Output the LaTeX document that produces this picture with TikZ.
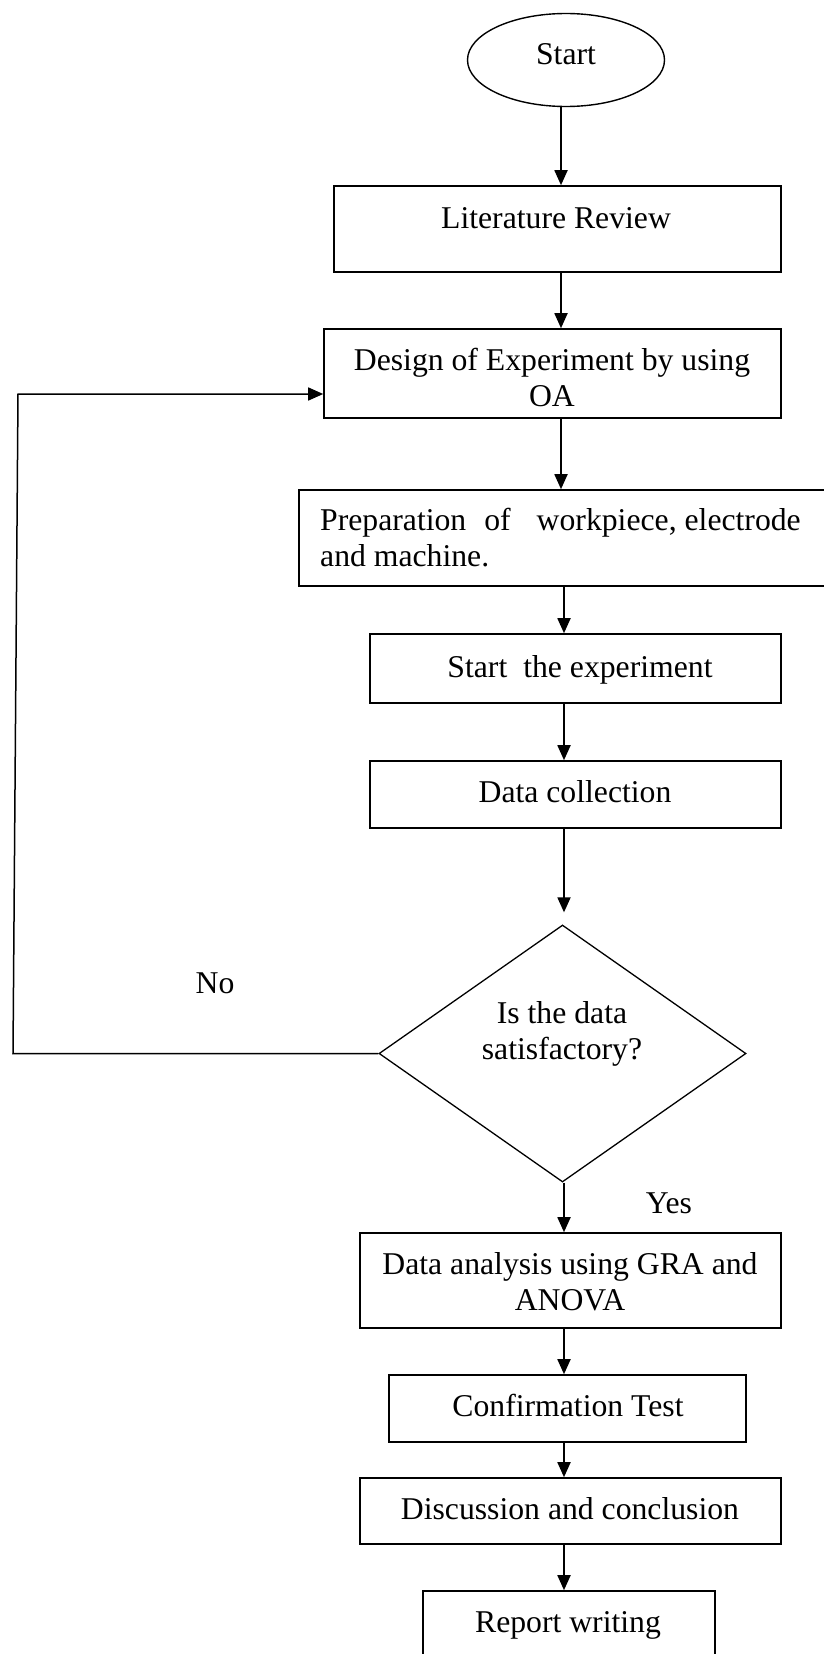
\documentclass[tikz,border=0pt]{standalone}
\usepackage{fontspec}
\setmainfont{Liberation Serif}
\usetikzlibrary{arrows.meta,shapes.geometric}
\begin{document}
\begin{tikzpicture}[x=1pt,y=-1pt,
  box/.style={draw, line width=1.6pt, rectangle, inner sep=0pt},
  txt/.style={font=\fontsize{31.7}{36.5}\selectfont, inner sep=0pt, anchor=base},
  arr/.style={line width=1.8pt, -{Triangle[length=15pt,width=13pt]}},
]
\useasboundingbox (0,0) rectangle (823,1654);
% shapes
\node[draw, ellipse, line width=1.4pt, minimum width=197pt, minimum height=93pt, inner sep=0pt] (start) at (566,60) {};
\node[box, minimum width=447pt, minimum height=86pt] (lit) at (557.5,229) {};
\node[box, minimum width=457pt, minimum height=89pt] (design) at (552.5,373.5) {};
\node[box, minimum width=531pt, minimum height=96pt] (prep) at (564.5,538) {};
\node[box, minimum width=411pt, minimum height=69pt] (exp) at (575.5,668.5) {};
\node[box, minimum width=411pt, minimum height=67pt] (data) at (575.5,794.5) {};
\node[draw, diamond, line width=1.3pt, minimum width=367pt, minimum height=257pt, inner sep=0pt] (dia) at (562.5,1053.5) {};
\node[box, minimum width=421pt, minimum height=95pt] (da) at (570.5,1280.5) {};
\node[box, minimum width=357pt, minimum height=67pt] (conf) at (567.5,1408.5) {};
\node[box, minimum width=421pt, minimum height=66pt] (disc) at (570.5,1511) {};
\node[box, minimum width=292pt, minimum height=89pt] (rep) at (569,1635.5) {};
% texts
\node[txt] (tstart) at (566,65) {Start};
\node[txt] (tlit) at (556,228) {Literature Review};
\node[txt] (tdesign) at (552,370) {\begin{tabular}[t]{@{}c@{}}Design of Experiment by using\\OA\end{tabular}};
\node[txt, anchor=base west] (tprep) at (320,530) {\begin{tabular}[t]{@{}l@{}}Preparation\hspace{18pt}of\hspace{26pt}workpiece, electrode\\and machine.\end{tabular}};
\node[txt] (texp) at (580,677) {Start\hspace{16pt}the experiment};
\node[txt] (tdata) at (575,802) {Data collection};
\node[txt] (tno) at (215,993) {No};
\node[txt] (tdia) at (562,1023) {\begin{tabular}[t]{@{}c@{}}Is the data\\satisfactory?\end{tabular}};
\node[txt] (tyes) at (669,1213) {Yes};
\node[txt] (tda) at (570,1274) {\begin{tabular}[t]{@{}c@{}}Data analysis using GRA and\\ANOVA\end{tabular}};
\node[txt] (tconf) at (568,1416) {Confirmation Test};
\node[txt] (tdisc) at (570,1519) {Discussion and conclusion};
\node[txt] (trep) at (568,1632) {Report writing};
% connectors
\coordinate (xa) at (561,0);
\coordinate (xb) at (564,0);
\draw[arr] (start.south -| xa) -- (lit.north -| xa);
\draw[arr] (lit.south -| xa) -- (design.north -| xa);
\draw[arr] (design.south -| xa) -- (prep.north -| xa);
\draw[arr] (prep.south -| xb) -- (exp.north -| xb);
\draw[arr] (exp.south -| xb) -- (data.north -| xb);
\draw[arr, shorten >=12pt] (data.south -| xb) -- (dia.north -| xb);
\draw[arr] (dia.south -| xb) -- (da.north -| xb);
\draw[arr] (da.south -| xb) -- (conf.north -| xb);
\draw[arr] (conf.south -| xb) -- (disc.north -| xb);
\draw[arr] (disc.south -| xb) -- (rep.north -| xb);
\coordinate (fb1) at (13,1053.5);
\coordinate (fb2) at (18,394);
\draw[arr, line width=1.5pt] (dia.west) -- (fb1) -- (fb2) -- (fb2 -| design.west);
\end{tikzpicture}
\end{document}
